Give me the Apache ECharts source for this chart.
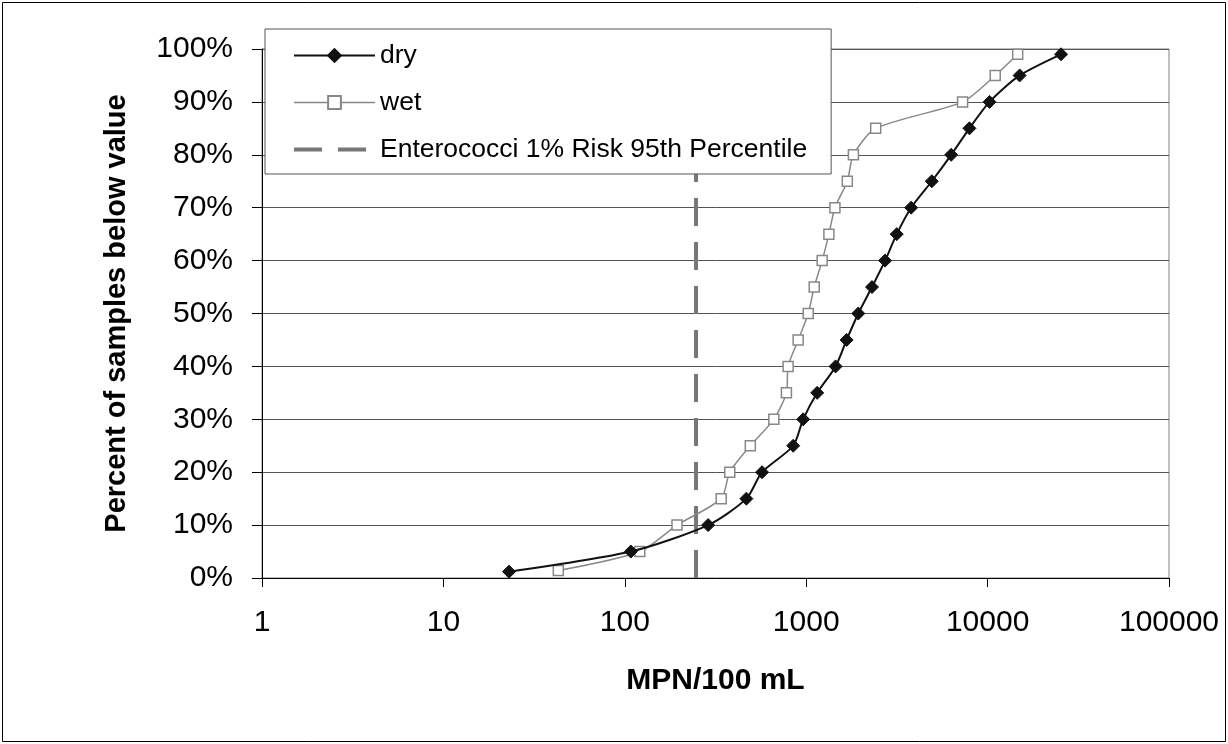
<!DOCTYPE html>
<html>
<head>
<meta charset="utf-8">
<script src="https://cdn.jsdelivr.net/npm/echarts@6/dist/echarts.min.js"></script>
<style>
  html, body { margin: 0; padding: 0; background: #fff; }
  #chart { width: 1228px; height: 744px; }
</style>
</head>
<body>
<div id="chart"></div>
<script>
// values (MPN/100 mL vs percent of samples below value)
var dryX = [23, 108, 288, 468, 571, 848, 962, 1150, 1452, 1670, 1937, 2305, 2722, 3155, 3787, 4925, 6300, 7940, 10250, 15020, 25400]
var dryY = [1.2, 5, 10, 15, 20, 25, 30, 35, 40, 45, 50, 55, 60, 65, 70, 75, 80, 85, 90, 95, 99]
var wetX = [43, 121, 194, 340, 379, 492, 663, 778, 795, 903, 1026, 1107, 1225, 1334, 1440, 1685, 1820, 2416, 7280, 11020, 14650]
var wetY = [1.4, 5, 10, 15, 20, 25, 30, 35, 40, 45, 50, 55, 60, 65, 70, 75, 80, 85, 90, 95, 99]
var riskX = [247, 247]
var riskY = [0, 100]
var seriesNames = ['dry', 'wet', 'Enterococci 1% Risk 95th Percentile']

function pairs(xs, ys) {
  var out = []
  for (var i = 0; i < xs.length; i++) out.push([xs[i], ys[i]])
  return out
}

var font = 'Liberation Sans, Arial, sans-serif'
var chart = echarts.init(document.getElementById('chart'))

chart.setOption({
  animation: false,
  backgroundColor: '#fff',
  textStyle: { fontFamily: font },
  graphic: [{
    type: 'rect',
    shape: { x: 2.5, y: 2.5, width: 1223, height: 739 },
    style: { fill: 'none', stroke: '#000', lineWidth: 1 },
    z: -1
  }],
  grid: {
    left: 262, right: 59, top: 49, bottom: 166,
    show: true, borderColor: '#808080', borderWidth: 1
  },
  legend: {
    orient: 'vertical',
    left: 265, top: 29,
    data: [
      { name: seriesNames[0] },
      { name: seriesNames[1], lineStyle: { width: 1.5 } },
      { name: seriesNames[2], itemStyle: { opacity: 0 }, lineStyle: { width: 4 } }
    ],
    backgroundColor: '#fff',
    borderColor: '#555', borderWidth: 1,
    padding: [13, 24, 11, 27],
    itemWidth: 81, itemHeight: 16, itemGap: 20,
    textStyle: { fontSize: 26.5, color: '#000', fontFamily: font },
    z: 10
  },
  xAxis: {
    type: 'log', logBase: 10, min: 1, max: 100000,
    name: 'MPN/100 mL', nameLocation: 'middle', nameGap: 88,
    nameTextStyle: { fontSize: 30, fontWeight: 'bold', color: '#000', fontFamily: font },
    axisLine: { lineStyle: { color: '#000', width: 1 } },
    axisTick: { show: true, inside: false, length: 9, lineStyle: { color: '#000' } },
    minorTick: { show: false },
    axisLabel: {
      fontSize: 30, color: '#000', margin: 30, fontFamily: font,
      formatter: function (v) { return String(Math.round(v)) }
    },
    splitLine: { show: false }
  },
  yAxis: {
    type: 'value', min: 0, max: 100, interval: 10,
    name: 'Percent of samples below value', nameLocation: 'middle', nameGap: 131,
    nameTextStyle: { fontSize: 29, fontWeight: 'bold', color: '#000', fontFamily: font },
    axisLine: { show: true, lineStyle: { color: '#000', width: 1 } },
    axisTick: { show: true, inside: false, length: 10, lineStyle: { color: '#000' } },
    axisLabel: { fontSize: 30, color: '#000', margin: 29, formatter: '{value}%', fontFamily: font },
    splitLine: { show: true, lineStyle: { color: '#555', width: 1 } }
  },
  series: [
    {
      name: seriesNames[0], type: 'line', smooth: 0.25,
      data: pairs(dryX, dryY),
      symbol: 'diamond', symbolSize: 13,
      lineStyle: { color: '#111', width: 2 },
      itemStyle: { color: '#111', borderColor: '#111', borderWidth: 1 },
      z: 4
    },
    {
      name: seriesNames[1], type: 'line', smooth: 0.25,
      data: pairs(wetX, wetY),
      symbol: 'rect', symbolSize: 10,
      lineStyle: { color: '#888', width: 1.5 },
      itemStyle: { color: '#fff', borderColor: '#888', borderWidth: 1.5 },
      z: 3
    },
    {
      name: seriesNames[2], type: 'line',
      data: pairs(riskX, riskY),
      symbol: 'none', showSymbol: false,
      lineStyle: { color: '#777', width: 4, type: [28, 16] },
      itemStyle: { color: 'rgba(0,0,0,0)' },
      z: 2
    }
  ]
})
</script>
</body>
</html>
